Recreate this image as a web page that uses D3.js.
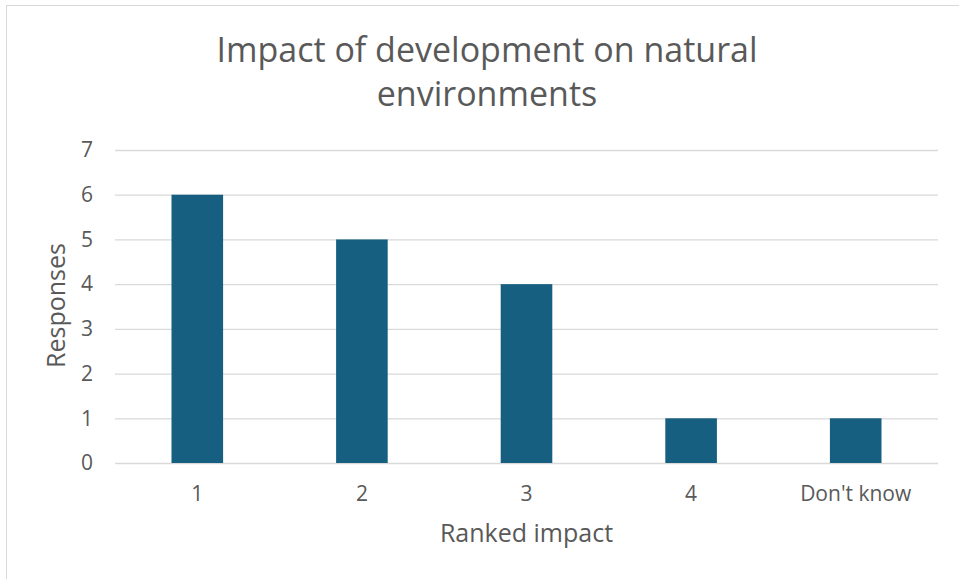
<!DOCTYPE html>
<html>
<head>
<meta charset="utf-8">
<script src="https://cdn.jsdelivr.net/npm/d3@7"></script>
<style>
  html, body { margin: 0; padding: 0; background: #ffffff; }
  svg { display: block; }
  text { font-family: "Open Sans", "Liberation Sans", sans-serif; fill: #595959; }
</style>
</head>
<body>
<script>
const categories = ["1", "2", "3", "4", "Don't know"];
const responses = [6, 5, 4, 1, 1];
const yTicks = [0, 1, 2, 3, 4, 5, 6, 7];
const titleLines = ["Impact of development on natural", "environments"];
const xAxisTitle = "Ranked impact";
const yAxisTitle = "Responses";

const W = 959, H = 579;
const plot = { left: 115, right: 938, top: 150, bottom: 463 };

const svg = d3.select("body").append("svg").attr("width", W).attr("height", H);

// chart border
svg.append("rect")
  .attr("x", 6.5).attr("y", 5.5)
  .attr("width", 980).attr("height", 600)
  .attr("fill", "#ffffff").attr("stroke", "#d9d9d9").attr("stroke-width", 1);

const x = d3.scaleBand()
  .domain(categories)
  .range([plot.left, plot.right])
  .paddingInner(0.6865)
  .paddingOuter(0.34325);

const y = d3.scaleLinear()
  .domain([0, 7])
  .range([plot.bottom, plot.top]);

// gridlines + y labels
const yAxis = d3.axisLeft(y)
  .tickValues(yTicks)
  .tickSize(-(plot.right - plot.left))
  .tickPadding(22)
  .tickFormat(d3.format("d"));

const gy = svg.append("g")
  .attr("transform", `translate(${plot.left},0)`)
  .call(yAxis);
gy.select(".domain").remove();
gy.selectAll(".tick line").attr("stroke", "#d9d9d9").attr("stroke-width", 1.3);
gy.selectAll(".tick text")
  .attr("font-size", 21)
  .attr("fill", "#595959")
  .style("font-family", "'Open Sans', sans-serif");

// bars
svg.append("g").selectAll("rect")
  .data(categories.map((c, i) => ({ c, v: responses[i] })))
  .join("rect")
  .attr("x", d => x(d.c))
  .attr("y", d => y(d.v))
  .attr("width", x.bandwidth())
  .attr("height", d => y(0) - y(d.v))
  .attr("fill", "#175f80");

// x axis
const xAxis = d3.axisBottom(x).tickSize(0).tickPadding(23);
const gx = svg.append("g")
  .attr("transform", `translate(0,${plot.bottom})`)
  .call(xAxis);
gx.select(".domain").remove();
gx.selectAll(".tick text")
  .attr("font-size", 21)
  .attr("fill", "#595959")
  .style("font-family", "'Open Sans', sans-serif");

// title
const title = svg.append("text")
  .attr("text-anchor", "middle")
  .attr("font-size", 34)
  .attr("fill", "#595959");
titleLines.forEach((line, i) => {
  title.append("tspan")
    .attr("x", 487)
    .attr("y", 62 + i * 44)
    .text(line);
});

// axis titles
svg.append("text")
  .attr("x", (plot.left + plot.right) / 2)
  .attr("y", 542)
  .attr("text-anchor", "middle")
  .attr("font-size", 25)
  .text(xAxisTitle);

svg.append("text")
  .attr("transform", `translate(65,${(plot.top + plot.bottom) / 2 - 1}) rotate(-90)`)
  .attr("text-anchor", "middle")
  .attr("font-size", 25)
  .text(yAxisTitle);
</script>
</body>
</html>
